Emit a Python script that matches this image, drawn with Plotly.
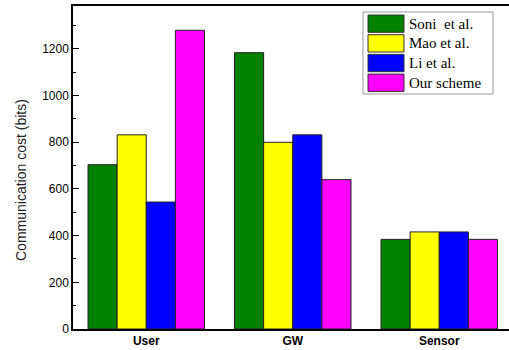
import plotly.graph_objects as go

# Communication cost per entity for each scheme
categories = ["User", "GW", "Sensor"]
schemes = ["Soni  et al.", "Mao et al.", "Li et al.", "Our scheme"]
soni = [704, 1184, 384]
mao = [832, 800, 416]
li = [544, 832, 416]
ours = [1280, 640, 384]
colors = ["#008000", "#FFFF00", "#0000FF", "#FF00FF"]
y_ticks = [0, 200, 400, 600, 800, 1000, 1200]

series = [soni, mao, li, ours]

W, H = 509, 350
ML, MT, MB, MR = 73, 6, 21, 0
plot_w = W - ML - MR
plot_h = H - MT - MB

fig = go.Figure()
for name, vals, col in zip(schemes, series, colors):
    fig.add_trace(go.Bar(
        x=categories, y=vals, name=name,
        marker=dict(color=col, line=dict(color="#222222", width=1)),
        showlegend=False,
    ))

# Framed legend with large colour swatches
def px_x(px):
    return (px - ML) / plot_w

def px_y(py):
    return (H - MB - py) / plot_h

shapes = [dict(type="rect", xref="paper", yref="paper",
               x0=px_x(363), x1=px_x(493), y0=px_y(94), y1=px_y(12),
               line=dict(color="#999999", width=1), fillcolor="white")]
annotations = []
row_top, row_h, sw_h = 15, 19.7, 17.3
for i, (name, col) in enumerate(zip(schemes, colors)):
    top = row_top + i * row_h
    shapes.append(dict(type="rect", xref="paper", yref="paper",
                       x0=px_x(368), x1=px_x(404), y0=px_y(top + sw_h), y1=px_y(top),
                       line=dict(color="#333333", width=1), fillcolor=col))
    annotations.append(dict(xref="paper", yref="paper", x=px_x(407), y=px_y(top + sw_h / 2),
                            text=name, showarrow=False, xanchor="left", yanchor="middle",
                            font=dict(family="Liberation Serif", size=15, color="black")))

# Y-axis title
annotations.append(dict(xref="paper", yref="paper", x=px_x(21), y=px_y(180),
                        text="Communication cost (bits)", showarrow=False, textangle=-90,
                        xanchor="center", yanchor="middle",
                        font=dict(family="Liberation Sans", size=14, color="#222222")))

fig.update_layout(
    width=W, height=H,
    margin=dict(l=ML, r=MR, t=MT, b=MB),
    paper_bgcolor="white", plot_bgcolor="white",
    barmode="group", bargap=0.205, bargroupgap=0,
    shapes=shapes, annotations=annotations,
    xaxis=dict(
        range=[-0.5, 2.476], showline=True, linecolor="black", linewidth=1.5,
        mirror=True, ticks="", showgrid=False,
        tickfont=dict(family="Liberation Sans", size=12, color="black", weight="bold"),
    ),
    yaxis=dict(
        range=[0, 1384], showline=True, linecolor="black", linewidth=1.5,
        tickvals=y_ticks, ticks="inside", ticklen=6, tickwidth=1, tickcolor="black",
        minor=dict(dtick=100, ticks="inside", ticklen=3, tickcolor="black", showgrid=False),
        showgrid=False, zeroline=False,
        tickfont=dict(family="Liberation Sans", size=12, color="black"),
    ),
    font=dict(family="Liberation Sans"),
)

fig.write_html("out.html")
